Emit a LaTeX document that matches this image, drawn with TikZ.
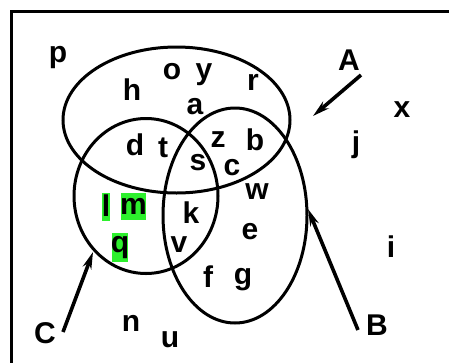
\documentclass[tikz,border=0pt]{standalone}
\usepackage{fontspec}
\setmainfont{Liberation Sans}
\usetikzlibrary{arrows.meta}
\definecolor{hl}{RGB}{45,240,45}
\begin{document}
\begin{tikzpicture}[x=1pt,y=-1pt,
  lbl/.style={font=\bfseries\fontsize{30}{30}\selectfont, inner sep=0pt},
  setline/.style={line width=3pt},
  ptr/.style={line width=3.6pt, -{Stealth[length=17pt,width=9pt]}},
  hlbox/.style={fill=hl, draw=none}]
\useasboundingbox (0,0) rectangle (449,362);
\fill[white] (0,0) rectangle (449,362);
% frame
\draw[line width=3.8pt] (11.5,370) -- (11.5,11.5) -- (460,11.5);
% highlights
\fill[hlbox] (102,193) rectangle (110,221);
\fill[hlbox] (121,193) rectangle (146,220);
\fill[hlbox] (112,233) rectangle (128,262);
% sets
\draw[setline] (176.5,120) ellipse [x radius=113.5, y radius=73];
\draw[setline] (146,196) ellipse [x radius=72, y radius=77.5];
\draw[setline] (235,215.5) ellipse [x radius=72, y radius=107.5];
% labels
\node[lbl] (p) at (58,58) {p};
\node[lbl] (h) at (132,90) {h};
\node[lbl] (o) at (172,72) {o};
\node[lbl] (y) at (204,75) {y};
\node[lbl] (r) at (253,82) {r};
\node[lbl] (a) at (195,107) {a};
\node[lbl] (A) at (349,60) {A};
\node[lbl] (x) at (402,110) {x};
\node[lbl] (j) at (356,145) {j};
\node[lbl] (d) at (135,145) {d};
\node[lbl] (t) at (163,148) {t};
\node[lbl] (z) at (218,140) {z};
\node[lbl] (b) at (255,140) {b};
\node[lbl] (s) at (198,163) {s};
\node[lbl] (c) at (232,168) {c};
\node[lbl] (w) at (257,192) {w};
\node[lbl] (l) at (106,206) {l};
\node[lbl] (m) at (133.5,206) {m};
\node[lbl] (k) at (191,213) {k};
\node[lbl] (e) at (250,232) {e};
\node[lbl] (q) at (120,248) {q};
\node[lbl] (v) at (179,245) {v};
\node[lbl] (i) at (391,247) {i};
\node[lbl] (f) at (208,277) {f};
\node[lbl] (g) at (243,280) {g};
\node[lbl] (n) at (131,323) {n};
\node[lbl] (u) at (170,340) {u};
\node[lbl] (C) at (45,333) {C};
\node[lbl] (B) at (377,325) {B};
% pointers
\coordinate (Aend) at (313,116);
\coordinate (Bend) at (308,209);
\coordinate (Cend) at (93,252);
\draw[ptr] (361,75) -- (Aend);
\draw[ptr] (358,330) -- (Bend);
\draw[ptr] (63,332) -- (Cend);
\end{tikzpicture}
\end{document}
